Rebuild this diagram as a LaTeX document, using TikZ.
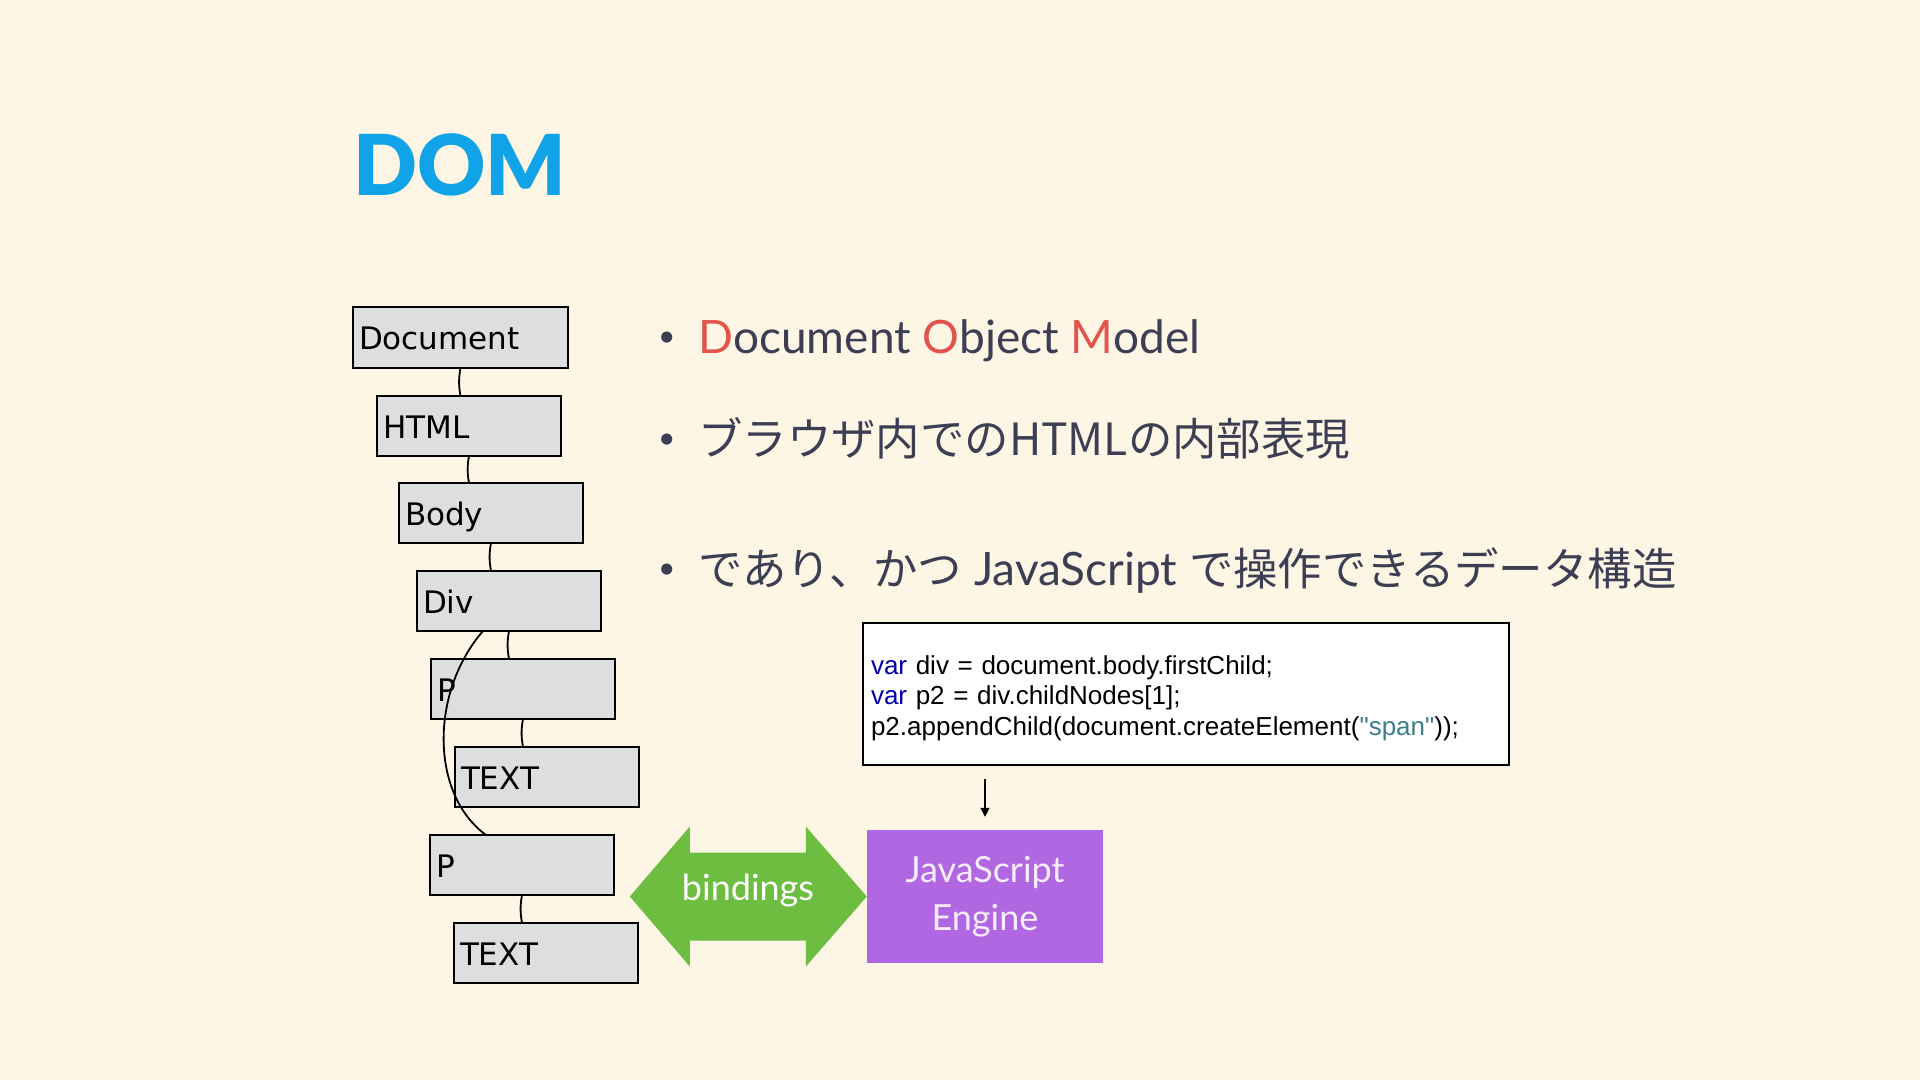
\documentclass[tikz,border=0pt]{standalone}
\usepackage{fontspec}
\setmainfont{Lato}
\newfontfamily\titlefont{Lato Black}
\newfontfamily\jpfont{Noto Sans CJK JP}
\newfontfamily\boxfont{DejaVu Sans}
\newfontfamily\codefont{Liberation Sans}
\usetikzlibrary{arrows.meta,positioning,calc}
\definecolor{bgcream}{RGB}{254,246,229}
\definecolor{domblue}{RGB}{16,163,232}
\definecolor{slate}{RGB}{60,62,84}
\definecolor{domred}{RGB}{226,83,76}
\definecolor{boxgray}{RGB}{221,222,224}
\definecolor{codeblue}{RGB}{0,0,170}
\definecolor{codeteal}{RGB}{60,128,140}
\definecolor{enginepurple}{RGB}{177,103,225}
\definecolor{enginetext}{RGB}{246,236,252}
\definecolor{bindgreen}{RGB}{109,190,64}
\newcommand\jp{\jpfont\fontsize{44.4}{44.4}\selectfont}
\newcommand\dotmark{\makebox[40pt][l]{\raisebox{7pt}{\fontsize{30}{30}\selectfont •}}}

\begin{document}
\begin{tikzpicture}[x=1pt,y=-1pt,>={Triangle[length=9pt,width=9pt]},
  box/.style={draw,line width=2pt,fill=boxgray,text width=172pt,inner xsep=6pt,outer sep=0pt,
    align=left,minimum height=60pt,text height=25pt,text depth=1pt,
    font=\boxfont\fontsize{31}{31}\selectfont},
  link/.style={line width=1.8pt},
  bullet/.style={anchor=base west,inner sep=0pt,text=slate,font=\fontsize{46}{46}\selectfont},
  codebox/.style={draw,line width=2pt,fill=white,text width=630pt,inner xsep=8pt,
    align=left,minimum height=142pt,font=\codefont\fontsize{26}{30.6}\selectfont},
  engine/.style={fill=enginepurple,text=enginetext,minimum width=236pt,minimum height=133pt,
    align=center,font=\fontsize{36}{48}\selectfont}]
  \fill[bgcream] (0,0) rectangle (1920,1080);
  \useasboundingbox (0,0) rectangle (1920,1080);

  \node[anchor=base west,text=domblue,font=\titlefont\fontsize{84}{84}\selectfont] (title) at (350,195) {DOM};

  \node[box,text width=203pt,minimum height=61pt,anchor=north west] (doc) at (353,307) {Document};
  \node[box,below=28pt of doc.south west,anchor=north west,xshift=24pt] (html) {HTML};
  \node[box,below=27pt of html.south west,anchor=north west,xshift=22pt] (body) {Body};
  \node[box,below=28pt of body.south west,anchor=north west,xshift=18pt] (div) {Div};
  \node[box,below=28pt of div.south west,anchor=north west,xshift=14pt] (p1) {P};
  \node[box,below=28pt of p1.south west,anchor=north west,xshift=24pt] (text1) {TEXT};
  \node[box,below=28pt of text1.south west,anchor=north west,xshift=-25pt] (p2) {P};
  \node[box,below=28pt of p2.south west,anchor=north west,xshift=24pt] (text2) {TEXT};

  \path[link] (doc.south) edge[bend right=10] (doc.south |- html.north)
    (html.south) edge[bend right=10] (html.south |- body.north)
    (body.south) edge[bend right=10] (body.south |- div.north)
    (div.south) edge[bend right=10] (div.south |- p1.north)
    (p1.south) edge[bend right=10] (p1.south |- text1.north)
    (p2.south) edge[bend right=10] (p2.south |- text2.north);
  \draw[link] ($(div.south west)+(66,0)$) .. controls (430,692) and (430,794) .. ($(p2.north west)+(56,0)$);

  \node[bullet] (b1) at (658,353) {\dotmark\textcolor{domred}{D}ocument \textcolor{domred}{O}bject \textcolor{domred}{M}odel};
  \node[bullet] (b2) at (658,455) {\dotmark{\jp ブラウザ内でのHTMLの内部表現}};
  \node[bullet] (b3) at (658,585) {\dotmark{\jp であり、かつ} JavaScript {\jp で操作できるデータ構造}};

  \node[codebox] (code) at (1186,694) {\rule{0pt}{27pt}\textcolor{codeblue}{var} div = document.body.firstChild;\\
    \textcolor{codeblue}{var} p2 = div.childNodes[1];\\
    p2.appendChild(document.createElement(\textcolor{codeteal}{"span"}));};

  \node[engine] (js) at (985,896.5) {JavaScript\\Engine};
  \draw[->,line width=1.5pt,shorten <=13pt,shorten >=13pt] (code.south -| js.north) -- (js.north);

  \fill[bindgreen] (js.west) -- ++(-61,-70) -- ++(0,26) -- ++(-116,0) -- ++(0,-26) -- ++(-60,70)
    -- ++(60,70) -- ++(0,-26) -- ++(116,0) -- ++(0,26) -- cycle;
  \node[anchor=base,text=white,font=\fontsize{36}{36}\selectfont] (bind) at (748,900) {bindings};
\end{tikzpicture}
\end{document}
